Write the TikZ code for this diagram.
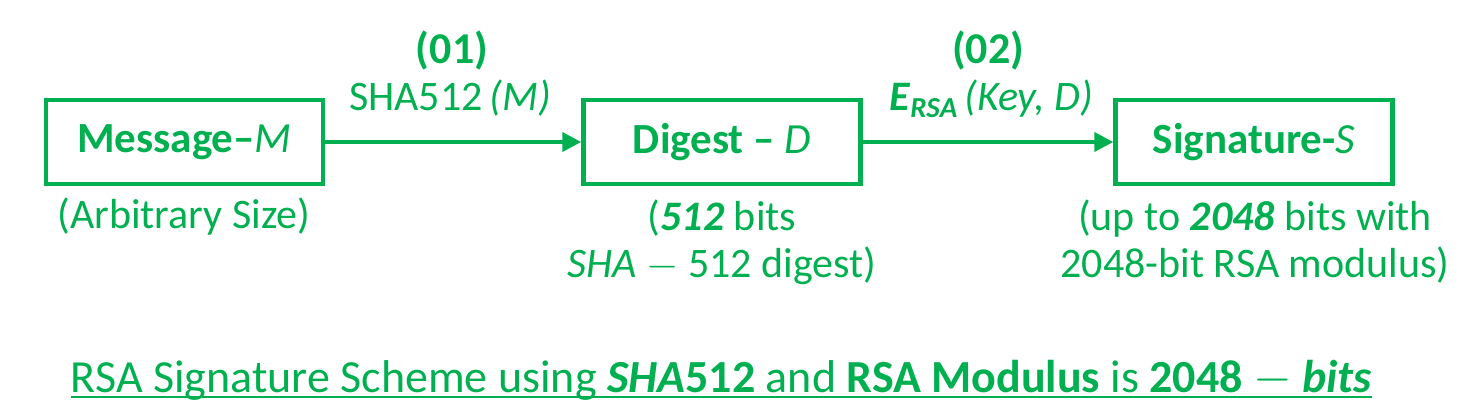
\documentclass[tikz,border=0pt]{standalone}
\usepackage{fontspec}
\setmainfont{Carlito}
\usetikzlibrary{positioning,arrows.meta}
\definecolor{sigreen}{HTML}{00B050}
\newcommand{\titleline}[1]{\setbox0\hbox{#1}\rlap{\rule[-3pt]{\wd0}{1pt}}\box0}
\newcommand{\subrsa}{\raisebox{-3.5pt}{\fontsize{14.5}{15}\selectfont\bfseries\itshape RSA}}
\tikzset{block/.style = {draw=sigreen, line width=2.25pt, rectangle, minimum height=42pt, minimum width=138.5pt, text=sigreen, font=\fontsize{21.5}{24}\selectfont\bfseries},
         lbl/.style = {text=sigreen, inner sep=0pt, anchor=base, align=center, font=\fontsize{21}{23.5}\selectfont},
         num/.style = {lbl, font=\fontsize{22}{24}\selectfont\bfseries},
         arr/.style = {-{Triangle[length=9.5pt,width=9.5pt]}, draw=sigreen, line width=2pt}}

\begin{document}
\begin{tikzpicture}[x=0.5pt,y=-0.5pt]
        \useasboundingbox (0,0) rectangle (1477,419);
        \node[block](msg)at(184.5,142){Message--\textit{\mdseries M}};
        \node[block](dig)at(722,142){Digest -- \textit{\mdseries D}};
        \node[block](sig)at(1254,142){Signature-\textit{\mdseries S}};
        \draw[arr](msg)--(dig);
        \draw[arr](dig)--(sig);
        \node[num](n1)at(452,63){(01)};
        \node[lbl](h1)at(450,110){SHA512\,\textit{(M)}};
        \node[num](n2)at(988,63){(02)};
        \node[lbl](h2)at(991,110){\textbf{\textit{E}}\subrsa\,\textit{(Key, D)}};
        \node[lbl](msgsz)at(184,228){(Arbitrary Size)};
        \node[lbl](digsz)at(722,277){(\textbf{\textit{512}} bits\\\textit{SHA} $-$ 512 digest)};
        \node[lbl](sigsz)at(1255,277){(up to \textbf{\textit{2048}} bits with\\2048-bit RSA modulus)};
        \node[lbl,font=\fontsize{23}{24}\selectfont](title)at(721.5,392){\titleline{RSA Signature Scheme using \textbf{\textit{SHA}}\textbf{512} and \textbf{RSA Modulus} is \textbf{2048} $-$ \textbf{\textit{bits}}}};
    \end{tikzpicture}
\end{document}
